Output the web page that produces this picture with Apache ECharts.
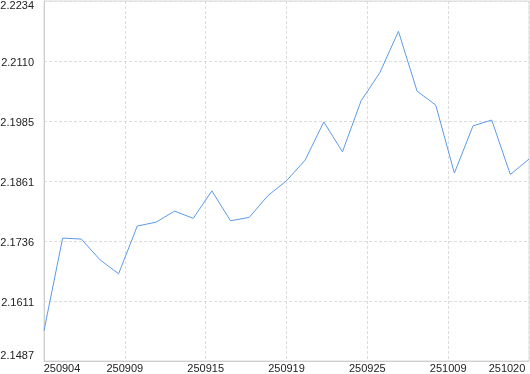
<!DOCTYPE html>
<html>
<head>
<meta charset="utf-8">
<script src="https://cdn.jsdelivr.net/npm/echarts@6/dist/echarts.min.js"></script>
<style>
html,body{margin:0;padding:0;background:#fff;}
#c{width:530px;height:374px;}
</style>
</head>
<body>
<div id="c"></div>
<script>
var dates = ['250904','250905','250908','250909','250910','250911','250912','250915','250916','250917','250918','250919','250922','250923','250924','250925','250926','250929','250930','251009','251010','251013','251014','251015','251016','251017','251020'];
var values = [2.1550,2.1742,2.1740,2.1697,2.1668,2.1767,2.1775,2.1798,2.1783,2.1840,2.1778,2.1785,2.1830,2.1861,2.1904,2.1983,2.1921,2.2027,2.2085,2.2171,2.2047,2.2018,2.1877,2.1975,2.1987,2.1874,2.1906];
var xTickLabels = ['250904','250909','250915','250919','250925','251009','251020'];
var yTickLabels = ['2.1487','2.1611','2.1736','2.1861','2.1985','2.2110','2.2234'];
var yMin = 2.1487, yMax = 2.2234;

// x positions in thirds of a day step so that tick interval is an exact integer
var xStep = 3;
var seriesData = values.map(function(v,i){ return [i * xStep, v]; });
var xMax = (dates.length - 1) * xStep;            // 78
var xInterval = xMax / (xTickLabels.length - 1); // 13
var yInterval = (yMax - yMin) / (yTickLabels.length - 1);

var chart = echarts.init(document.getElementById('c'), null, {renderer:'canvas'});
var font = {fontFamily:'Liberation Sans', fontSize:11, color:'#222'};
chart.setOption({
  animation:false,
  grid:{left:44, right:1, top:1, bottom:13, containLabel:false, outerBoundsMode:'none',
        show:true, borderColor:'#d8d8d8', borderWidth:1, backgroundColor:'transparent'},
  xAxis:{
    type:'value', min:0, max:xMax, interval:xInterval,
    axisLine:{show:true, lineStyle:{color:'#cfcfcf', width:1}},
    axisTick:{show:false},
    splitLine:{show:true, lineStyle:{color:'#dcdcdc', type:[3,2], width:1}},
    axisLabel:Object.assign({margin:2,
      formatter:function(v){
        var k = Math.round(v/xInterval);
        var s = xTickLabels[k] || '';
        if (k === 0) return '{l|' + s + '}';
        if (k === xTickLabels.length - 1) return '{r|' + s + '}';
        return s;
      },
      rich:{
        l:Object.assign({padding:[0,0,0,36]}, font),
        r:Object.assign({padding:[0,44,0,0]}, font)
      }}, font)
  },
  yAxis:{
    type:'value', min:yMin, max:yMax, interval:yInterval,
    axisLine:{show:true, lineStyle:{color:'#cfcfcf', width:1}},
    axisTick:{show:false},
    splitLine:{show:true, lineStyle:{color:'#dcdcdc', type:[3,2], width:1}},
    axisLabel:Object.assign({margin:10,
      formatter:function(v){
        var k = Math.round((v-yMin)/yInterval);
        var s = yTickLabels[k] || '';
        if (k === 0) return '{b|' + s + '}';
        if (k === yTickLabels.length - 1) return '{t|' + s + '}';
        return '{m|' + s + '}';
      },
      rich:{
        t:Object.assign({padding:[10,0,0,0]}, font),
        m:Object.assign({padding:[4,0,0,0]}, font),
        b:Object.assign({padding:[0,0,10,0]}, font)
      }}, font)
  },
  series:[{
    type:'line', data:seriesData, symbol:'none', showSymbol:false,
    lineStyle:{color:'#5b9aea', width:1}
  }]
});
</script>
</body>
</html>
